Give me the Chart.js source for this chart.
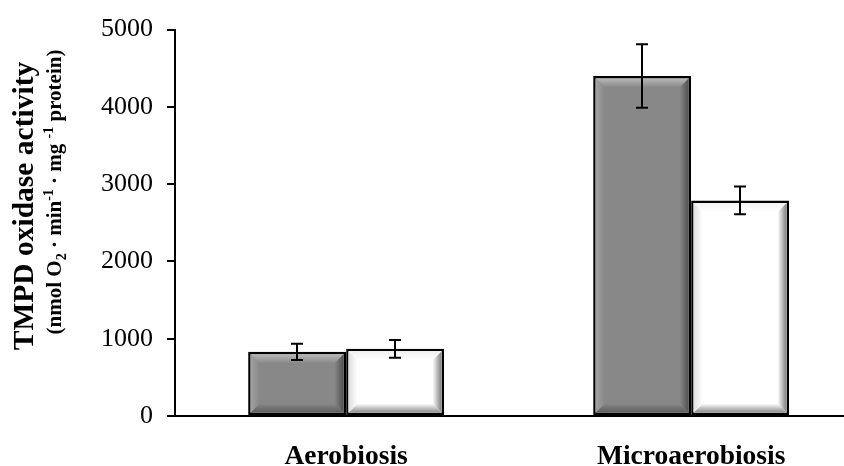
<!DOCTYPE html>
<html>
<head>
<meta charset="utf-8">
<script src="https://cdn.jsdelivr.net/npm/chart.js@4/dist/chart.umd.min.js"></script>
<style>
  html, body { margin: 0; padding: 0; background: #ffffff; overflow: hidden; }
  #wrap { width: 844px; height: 466px; }
</style>
</head>
<body>
<div id="wrap"><canvas id="c" width="844" height="466"></canvas></div>
<script>
// Growth conditions on the category axis
const categories = ['Aerobiosis', 'Microaerobiosis'];
// TMPD oxidase activity, first (grey) series, with standard deviations
const greyValues = [830, 4400];
const greyErrors = [105, 410];
// second (white) series, with standard deviations
const whiteValues = [870, 2790];
const whiteErrors = [115, 180];
// value axis ticks
const yTicks = [0, 1000, 2000, 3000, 4000, 5000];

const FONT = "'Liberation Serif', 'Times New Roman', serif";

function toPoints(values) {
  return values.map((v, i) => ({ x: i, y: v }));
}

// Shade a bar with a bevelled frame (lighter top/left, darker bottom/right)
function drawBevel(ctx, el, shade, inset, depth) {
  const p = el.getProps(['x', 'y', 'base', 'width'], true);
  const L = p.x - p.width / 2 + inset;
  const R = p.x + p.width / 2 - inset;
  const T = Math.min(p.y, p.base) + inset;
  const B = Math.max(p.y, p.base) - inset;
  const b = Math.min(depth, (R - L) / 2, (B - T) / 2);
  const band = (pts, x0, y0, x1, y1, outer) => {
    const g = ctx.createLinearGradient(x0, y0, x1, y1);
    g.addColorStop(0, outer);
    g.addColorStop(1, shade.center);
    ctx.fillStyle = g;
    ctx.beginPath();
    ctx.moveTo(pts[0][0], pts[0][1]);
    for (let k = 1; k < pts.length; k++) ctx.lineTo(pts[k][0], pts[k][1]);
    ctx.closePath();
    ctx.fill();
  };
  band([[L, T], [R, T], [R - b, T + b], [L + b, T + b]], 0, T, 0, T + b, shade.top);
  band([[L, B], [R, B], [R - b, B - b], [L + b, B - b]], 0, B, 0, B - b, shade.bottom);
  band([[L, T], [L + b, T + b], [L + b, B - b], [L, B]], L, 0, L + b, 0, shade.left);
  band([[R, T], [R - b, T + b], [R - b, B - b], [R, B]], R, 0, R - b, 0, shade.right);
}

const shades = [
  { center: '#888888', top: '#b8b8b8', left: '#a2a2a2', right: '#505050', bottom: '#5e5e5e' },
  { center: '#ffffff', top: '#f2f2f2', left: '#dedede', right: '#7e7e7e', bottom: '#8c8c8c' }
];
const errors = [greyErrors, whiteErrors];
const BAR_BORDER = 2.5;

const bevelPlugin = {
  id: 'bevel',
  afterDatasetsDraw(chart) {
    const ctx = chart.ctx;
    ctx.save();
    chart.data.datasets.forEach((ds, di) => {
      chart.getDatasetMeta(di).data.forEach(el => drawBevel(ctx, el, shades[di], BAR_BORDER, 9));
    });
    ctx.restore();
  }
};

const errorBarPlugin = {
  id: 'errorBars',
  afterDatasetsDraw(chart) {
    const ctx = chart.ctx;
    const yScale = chart.scales.y;
    ctx.save();
    ctx.strokeStyle = '#000000';
    ctx.lineWidth = 2;
    chart.data.datasets.forEach((ds, di) => {
      chart.getDatasetMeta(di).data.forEach((el, i) => {
        const v = ds.data[i].y;
        const e = errors[di][i];
        const x = Math.round(el.x);
        const yHi = yScale.getPixelForValue(v + e);
        const yLo = yScale.getPixelForValue(v - e);
        const cap = 6;
        ctx.beginPath();
        ctx.moveTo(x, yHi); ctx.lineTo(x, yLo);
        ctx.moveTo(x - cap, yHi); ctx.lineTo(x + cap, yHi);
        ctx.moveTo(x - cap, yLo); ctx.lineTo(x + cap, yLo);
        ctx.stroke();
      });
    });
    ctx.restore();
  }
};

// Two-line rotated value-axis title with sub- and superscripts
const axisTitlePlugin = {
  id: 'axisTitle',
  afterDraw(chart) {
    const ctx = chart.ctx;
    ctx.save();
    ctx.fillStyle = '#000000';
    ctx.textBaseline = 'alphabetic';
    ctx.textAlign = 'left';

    // first line
    ctx.save();
    ctx.translate(33, 206);
    ctx.rotate(-Math.PI / 2);
    ctx.font = 'bold 29.5px ' + FONT;
    const t1 = 'TMPD oxidase activity';
    ctx.fillText(t1, -ctx.measureText(t1).width / 2, 0);
    ctx.restore();

    // second line
    const size = 21, small = 14;
    const parts = [
      { t: '(nmol O', s: size, dy: 0 },
      { t: '2', s: small, dy: 5 },
      { t: ' \u00B7 min', s: size, dy: 0 },
      { t: '-1', s: small, dy: -8 },
      { t: ' \u00B7 mg ', s: size, dy: 0 },
      { t: '-1', s: small, dy: -8 },
      { t: ' protein)', s: size, dy: 0 }
    ];
    let total = 0;
    parts.forEach(p => { ctx.font = 'bold ' + p.s + 'px ' + FONT; p.w = ctx.measureText(p.t).width; total += p.w; });
    ctx.save();
    ctx.translate(61, 192);
    ctx.rotate(-Math.PI / 2);
    let cx = -total / 2;
    parts.forEach(p => {
      ctx.font = 'bold ' + p.s + 'px ' + FONT;
      ctx.fillText(p.t, cx, p.dy);
      cx += p.w;
    });
    ctx.restore();
    ctx.restore();
  }
};

new Chart(document.getElementById('c'), {
  type: 'bar',
  data: {
    datasets: [
      {
        data: toPoints(greyValues),
        backgroundColor: '#888888',
        borderColor: '#000000',
        borderWidth: BAR_BORDER,
        borderSkipped: false
      },
      {
        data: toPoints(whiteValues),
        backgroundColor: '#ffffff',
        borderColor: '#000000',
        borderWidth: BAR_BORDER,
        borderSkipped: false
      }
    ]
  },
  options: {
    responsive: false,
    animation: false,
    devicePixelRatio: 1,
    categoryPercentage: 0.568,
    barPercentage: 1.0,
    layout: { padding: { top: 26, right: 0, bottom: 0, left: 0 } },
    plugins: {
      legend: { display: false },
      tooltip: { enabled: false },
      title: { display: false }
    },
    scales: {
      x: {
        type: 'linear',
        offset: false,
        bounds: 'data',
        grace: 0,
        min: -0.496,
        max: 1.443,
        afterDataLimits(scale) {
          scale.min = -0.496;
          scale.max = 1.443;
        },
        afterBuildTicks(scale) {
          scale.ticks = categories.map((_, i) => ({ value: i }));
        },
        afterFit(scale) { scale.height = 50; },
        ticks: {
          callback: v => categories[v] ?? '',
          autoSkip: false,
          maxRotation: 0,
          padding: 24,
          color: '#000000',
          font: { family: FONT, size: 27.5, weight: 'bold' }
        },
        grid: { display: false, drawTicks: false, offset: false },
        border: { display: true, color: '#000000', width: 2 }
      },
      y: {
        min: 0,
        max: 5000,
        afterBuildTicks(scale) {
          scale.ticks = yTicks.map(v => ({ value: v }));
        },
        afterFit(scale) { scale.width = 175; },
        ticks: {
          callback: v => String(v),
          padding: 14,
          color: '#000000',
          font: { family: FONT, size: 26 }
        },
        grid: { drawOnChartArea: false, drawTicks: true, tickLength: 8, color: '#000000', lineWidth: 2 },
        border: { display: true, color: '#000000', width: 2 }
      }
    }
  },
  plugins: [bevelPlugin, errorBarPlugin, axisTitlePlugin]
});
</script>
</body>
</html>
